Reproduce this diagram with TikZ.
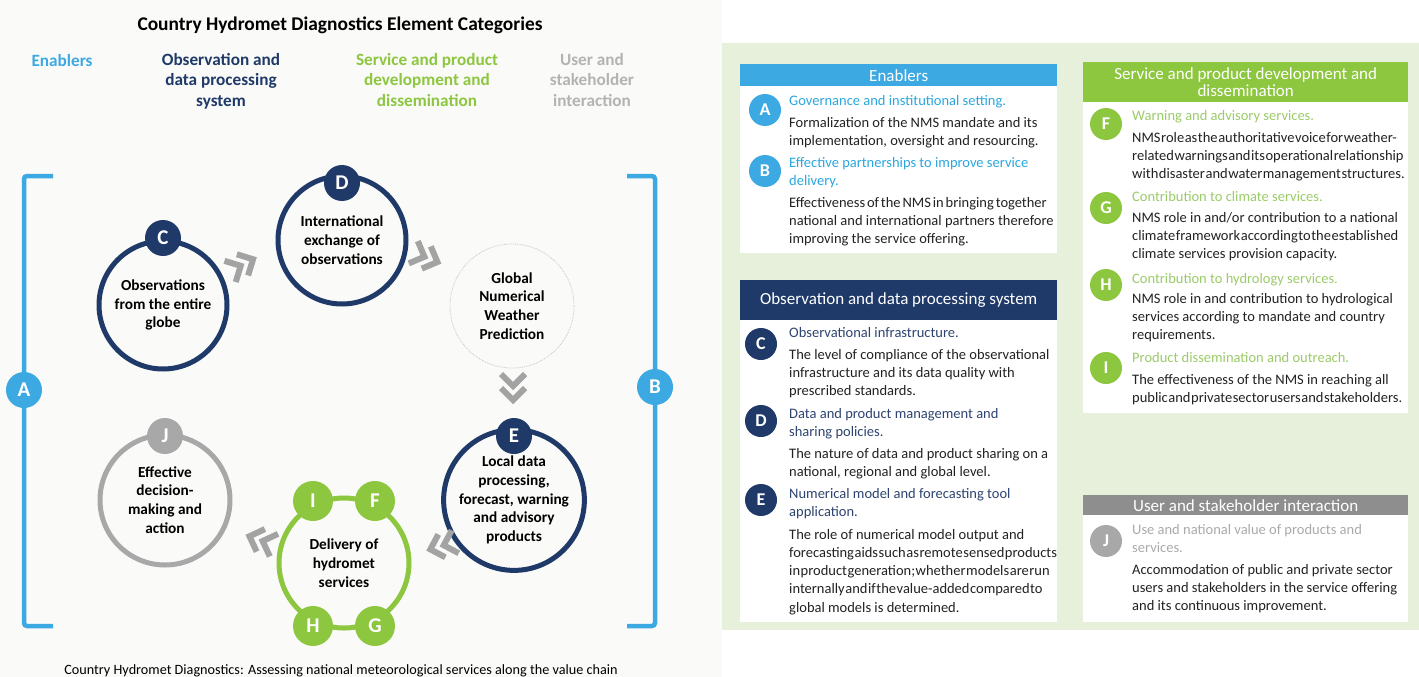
\documentclass[tikz,border=0pt]{standalone}
\usepackage{fontspec}
\setmainfont{Carlito}
\usetikzlibrary{calc}
\definecolor{cblue}{HTML}{3DA9E3}
\definecolor{cnavy}{HTML}{1F3A68}
\definecolor{cgreen}{HTML}{8DC63F}
\definecolor{cgrayJ}{HTML}{A8A8A8}
\definecolor{cchev}{HTML}{A3A3A3}
\definecolor{cpanel}{HTML}{E6F0DA}
\definecolor{cbg}{HTML}{FAFAF8}
\definecolor{cuser}{HTML}{8E8E8E}
\definecolor{ctxt}{HTML}{222222}
\definecolor{ctitleA}{HTML}{2AA7DF}
\definecolor{ctitleC}{HTML}{2E4470}
\definecolor{ctitleF}{HTML}{9CCB6A}
\definecolor{ctitleJ}{HTML}{AAAAAA}
\definecolor{ccatgray}{HTML}{B3B3B3}
\newcommand\rlines[1]{\begin{tabular}[t]{@{}l@{}}#1\end{tabular}}
\newcommand\tightsp[1]{{\spaceskip=0.04em plus 0pt\relax #1}}
\newcommand\midsp[1]{{\spaceskip=0.13em plus 0pt\relax #1}}
\tikzset{
  bigcirc/.style={circle, line width=5pt, minimum size=#1, inner sep=0pt, align=center, font=\fontsize{15.3}{18.7}\selectfont\bfseries},
  tag/.style={circle, fill=#1, text=white, minimum size=36pt, inner sep=0pt, font=\fontsize{21}{21}\selectfont\bfseries},
  rtag/.style={circle, fill=#1, text=white, minimum size=32pt, inner sep=0pt, font=\fontsize{18}{18}\selectfont\bfseries},
  cat/.style={align=center, font=\fontsize{17.2}{20.5}\selectfont\bfseries, inner sep=0pt},
  wbox/.style={fill=white, anchor=north west, inner sep=0pt},
  hdr/.style={fill=#1, text=white, anchor=north west, inner sep=0pt, align=center, font=\fontsize{17}{17.5}\selectfont},
  rtitle/.style={text=#1, anchor=base west, inner sep=0pt, font=\fontsize{14.5}{18.3}\selectfont},
  rbody/.style={text=ctxt, anchor=base west, inner sep=0pt, font=\fontsize{14.5}{18.3}\selectfont},
  chev/.pic={\draw[cchev, line width=6pt] (-18,12) -- (-6,0) -- (-18,-12);
             \draw[cchev, line width=6pt] (-4,12) -- (8,0) -- (-4,-12);},
  brk/.style={cblue, line width=4.5pt, rounded corners=3pt}
}
\begin{document}
\begin{tikzpicture}[x=1pt,y=-1pt]
\useasboundingbox (0,0) rectangle (1419,677);
\fill[cbg] (0,0) rectangle (722,677);
\fill[white] (722,0) rectangle (1419,677);
\fill[cpanel] (722,43) rectangle (1419,630);

% ---------- left: titles ----------
\node[font=\fontsize{19.4}{21}\selectfont\bfseries, inner sep=0pt] (title) at (340,25) {Country Hydromet Diagnostics Element Categories};
\node[cat, text=cblue] (catA) at (62,61) {Enablers};
\node[cat, text=cnavy, anchor=north] (catC) at (221,53) {Observation and\\data processing\\system};
\node[cat, text=cgreen, anchor=north] (catF) at (427,53) {Service and product\\development and\\dissemination};
\node[cat, text=ccatgray, anchor=north] (catJ) at (592,53) {User and\\stakeholder\\interaction};

% ---------- brackets ----------
\coordinate (la1) at (53,176); \coordinate (la2) at (24,176);
\coordinate (la3) at (24,626); \coordinate (la4) at (53,626);
\draw[brk] (la1) -- (la2) -- (la3) -- (la4);
\coordinate (rb1) at (627,176); \coordinate (rb2) at (655,176);
\coordinate (rb3) at (655,626); \coordinate (rb4) at (627,626);
\draw[brk] (rb1) -- (rb2) -- (rb3) -- (rb4);
\node[tag=cblue] (A) at (24,390) {A};
\node[tag=cblue] (B) at (655,387) {B};

% ---------- circles ----------
\node[bigcirc=128pt, draw=cnavy] (C) at (163,305) {Observations\\from the entire\\globe};
\node[tag=cnavy] (Ct) at (163,238) {C};
\node[bigcirc=128pt, draw=cnavy] (D) at (342,240) {International\\exchange of\\observations};
\node[tag=cnavy] (Dt) at (342,183) {D};
\node[bigcirc=124pt, draw=black!22, line width=0.8pt, densely dotted] (N) at (512,306) {Global\\Numerical\\Weather\\Prediction};
\node[bigcirc=130pt, draw=cnavy] (E) at (514,500) {Local data\\processing,\\forecast, warning\\and advisory\\products};
\node[tag=cnavy] (Et) at (514,436) {E};
\node[bigcirc=130pt, draw=cgrayJ] (J) at (165,500) {Effective\\decision-\\making and\\action};
\node[tag=cgrayJ] (Jt) at (165,436) {J};
\node[bigcirc=130pt, draw=cgreen] (Del) at (344,563) {Delivery of\\hydromet\\services};
\node[tag=cgreen, minimum size=40pt] (I) at (313,501) {I};
\node[tag=cgreen, minimum size=40pt] (F) at (375,501) {F};
\node[tag=cgreen, minimum size=40pt] (H) at (313,626) {H};
\node[tag=cgreen, minimum size=40pt] (G) at (375,626) {G};

% ---------- chevrons ----------
\pic[rotate=28] at (246,263) {chev};
\pic[rotate=-22] at (430,259) {chev};
\pic[rotate=-90] at (513,392) {chev};
\pic[rotate=197] at (438,547) {chev};
\pic[rotate=160] at (257,539) {chev};

\node[font=\fontsize{14.2}{15}\selectfont, inner sep=0pt] (cap) at (341,671) {Country Hydromet Diagnostics: Assessing national meteorological services along the value chain};

% ---------- right panel ----------
\node[wbox, minimum width=317pt, minimum height=189pt] (enb) at (740,64) {};
\node[hdr=cblue, minimum width=317pt, minimum height=22pt] (enbh) at (740,64) {Enablers};
\node[wbox, minimum width=325pt, minimum height=351pt] (srv) at (1083,62) {};
\node[hdr=cgreen, minimum width=325pt, minimum height=40pt] (srvh) at (1083,62) {Service and product development and\\dissemination};
\node[wbox, minimum width=317pt, minimum height=342pt] (obs) at (740,280) {};
\node[hdr=cnavy, minimum width=317pt, minimum height=40pt] (obsh) at (740,280) {Observation and data processing system};
\node[wbox, minimum width=325pt, minimum height=127pt] (usr) at (1083,495) {};
\node[hdr=cuser, minimum width=325pt, minimum height=20pt] (usrh) at (1083,495) {User and stakeholder interaction};

\node[rtag=cblue] (rA) at (765,110) {A};
\node[rtitle=ctitleA] (tA) at (789,105) {\rlines{Governance and institutional setting.}};
\node[rbody] (bA) at (789,127) {\rlines{Formalization of the NMS mandate and its\\implementation, oversight and resourcing.}};
\node[rtag=cblue] (rB) at (765,171) {B};
\node[rtitle=ctitleA] (tB) at (789,167) {\rlines{Effective partnerships to improve service\\delivery.}};
\node[rbody] (bB) at (789,207) {\rlines{\midsp{Effectiveness of the NMS in bringing together}\\national and international partners therefore\\improving the service offering.}};

\node[rtag=cnavy] (rC) at (761,344) {C};
\node[rtitle=ctitleC] (tC) at (789,337) {\rlines{Observational infrastructure.}};
\node[rbody] (bC) at (789,359) {\rlines{The level of compliance of the observational\\infrastructure and its data quality with\\prescribed standards.}};
\node[rtag=cnavy] (rD) at (761,421) {D};
\node[rtitle=ctitleC] (tD) at (789,418) {\rlines{Data and product management and\\sharing policies.}};
\node[rbody] (bD) at (789,458) {\rlines{The nature of data and product sharing on a\\national, regional and global level.}};
\node[rtag=cnavy] (rE) at (761,500) {E};
\node[rtitle=ctitleC] (tE) at (789,498) {\rlines{Numerical model and forecasting tool\\application.}};
\node[rbody] (bE) at (789,539) {\rlines{The role of numerical model output and\\\tightsp{forecasting aids such as remote sensed products}\\\tightsp{in product generation; whether models are run}\\\tightsp{internally and if the value-added compared to}\\global models is determined.}};

\node[rtag=cgreen] (rF) at (1106,124) {F};
\node[rtitle=ctitleF] (tF) at (1132,120) {\rlines{Warning and advisory services.}};
\node[rbody] (bF) at (1132,142) {\rlines{\tightsp{NMS role as the authoritative voice for weather-}\\\tightsp{related warnings and its operational relationship}\\\tightsp{with disaster and water management structures.}}};
\node[rtag=cgreen] (rG) at (1106,208) {G};
\node[rtitle=ctitleF] (tG) at (1132,201) {\rlines{Contribution to climate services.}};
\node[rbody] (bG) at (1132,222) {\rlines{NMS role in and/or contribution to a national\\\tightsp{climate framework according to the established}\\climate services provision capacity.}};
\node[rtag=cgreen] (rH) at (1106,285) {H};
\node[rtitle=ctitleF] (tH) at (1132,283) {\rlines{Contribution to hydrology services.}};
\node[rbody] (bH) at (1132,303) {\rlines{NMS role in and contribution to hydrological\\services according to mandate and country\\requirements.}};
\node[rtag=cgreen] (rI) at (1106,368) {I};
\node[rtitle=ctitleF] (tI) at (1132,362) {\rlines{Product dissemination and outreach.}};
\node[rbody] (bI) at (1132,384) {\rlines{The effectiveness of the NMS in reaching all\\\tightsp{public and private sector users and stakeholders.}}};

\node[rtag=cgrayJ] (rJ) at (1106,541) {J};
\node[rtitle=ctitleJ] (tJ) at (1132,534) {\rlines{Use and national value of products and\\services.}};
\node[rbody] (bJ) at (1132,574) {\rlines{Accommodation of public and private sector\\users and stakeholders in the service offering\\and its continuous improvement.}};
\end{tikzpicture}
\end{document}
